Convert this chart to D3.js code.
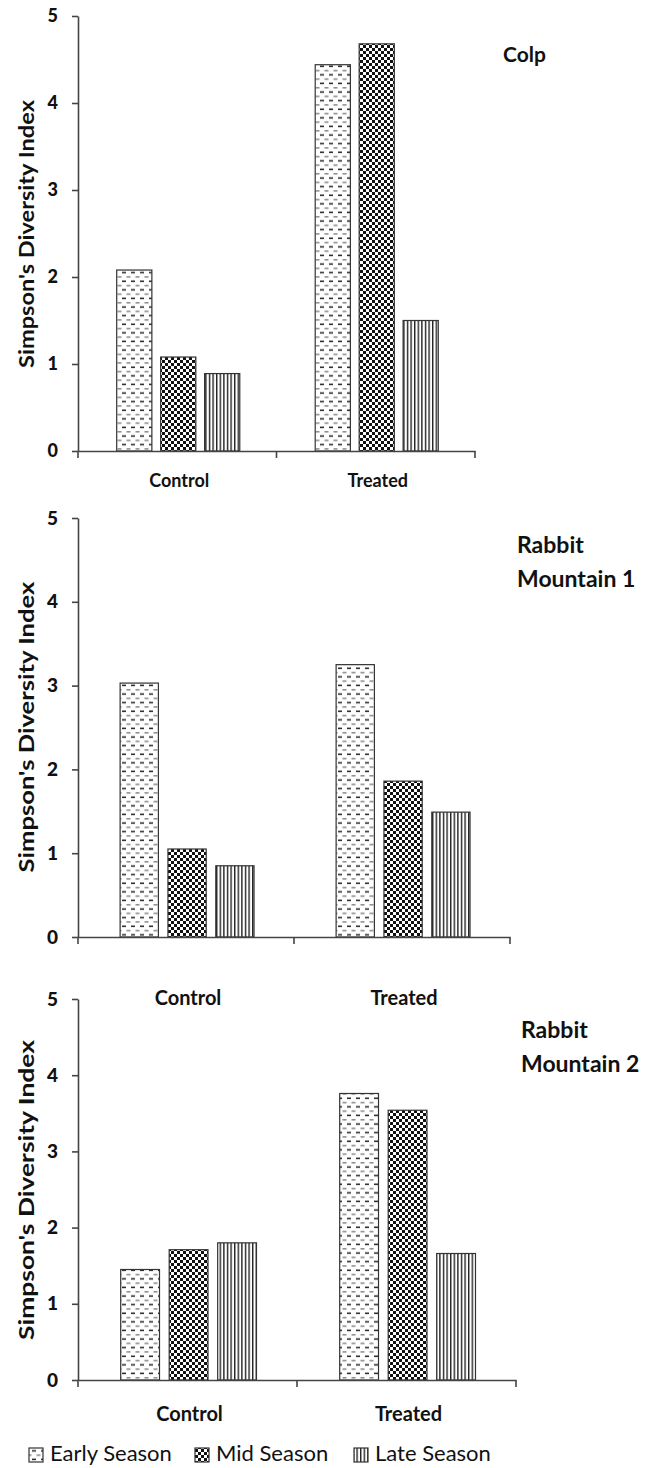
<!DOCTYPE html>
<html><head><meta charset="utf-8">
<script src="https://cdn.jsdelivr.net/npm/d3@7"></script>
<style>body{margin:0;background:#fff}svg{display:block}</style>
</head><body>
<script>
const categories = ["Control", "Treated"];
const seasons = ["Early Season", "Mid Season", "Late Season"];
const siteNames = [["Colp"], ["Rabbit", "Mountain 1"], ["Rabbit", "Mountain 2"]];
const colpValues = [[2.08, 1.08, 0.89], [4.44, 4.68, 1.50]];
const rm1Values = [[3.03, 1.05, 0.85], [3.25, 1.86, 1.49]];
const rm2Values = [[1.45, 1.71, 1.80], [3.76, 3.54, 1.66]];
const yTicks = [0, 1, 2, 3, 4, 5];
const yLabel = "Simpson's Diversity Index";

const W = 669, H = 1468;
const svg = d3.select("body").append("svg").attr("width", W).attr("height", H);
const defs = svg.append("defs");

// patterns
const pE = defs.append("pattern").attr("id", "pEarly").attr("patternUnits", "userSpaceOnUse")
  .attr("width", 9).attr("height", 8.6);
pE.append("rect").attr("width", 9).attr("height", 8.6).attr("fill", "#fff");
pE.append("rect").attr("x", 0.5).attr("y", 1).attr("width", 4).attr("height", 1.5).attr("fill", "#888");
pE.append("rect").attr("x", 5).attr("y", 5.3).attr("width", 4).attr("height", 1.5).attr("fill", "#222");

const pM = defs.append("pattern").attr("id", "pMid").attr("patternUnits", "userSpaceOnUse")
  .attr("width", 6).attr("height", 6);
pM.append("rect").attr("width", 6).attr("height", 6).attr("fill", "#fff");
pM.append("rect").attr("x", 0).attr("y", 0).attr("width", 3).attr("height", 3).attr("fill", "#111");
pM.append("rect").attr("x", 3).attr("y", 3).attr("width", 3).attr("height", 3).attr("fill", "#111");

const pL = defs.append("pattern").attr("id", "pLate").attr("patternUnits", "userSpaceOnUse")
  .attr("width", 3.6).attr("height", 10);
pL.append("rect").attr("width", 3.6).attr("height", 10).attr("fill", "#fff");
pL.append("rect").attr("x", 0).attr("y", 0).attr("width", 1.4).attr("height", 10).attr("fill", "#222");

const fills = d3.scaleOrdinal().domain(seasons).range(["url(#pEarly)", "url(#pMid)", "url(#pLate)"]);

const panels = [
  {values: colpValues, name: siteNames[0], axisX: 78, top: 16, bottom: 451, right: 475,
   catY: 487, catSize: 18, tickSize: 18, titleX: 503, titleY: 62, titleSize: 21, labelLen: 268, labelC: 234},
  {values: rm1Values, name: siteNames[1], axisX: 78, top: 518, bottom: 937, right: 510,
   catY: 1005, catSize: 20, tickSize: 19, titleX: 517, titleY: 553, titleSize: 23, labelLen: 291, labelC: 727},
  {values: rm2Values, name: siteNames[2], axisX: 78, top: 999, bottom: 1380, right: 516,
   catY: 1421, catSize: 20, tickSize: 19, titleX: 521, titleY: 1038, titleSize: 23, labelLen: 300, labelC: 1190}
];

const FONT = "Lato, 'Open Sans', sans-serif";

panels.forEach(p => {
  const g = svg.append("g");
  const y = d3.scaleLinear().domain([0, 5]).range([p.bottom, p.top]);
  const x0 = d3.scaleBand().domain(categories).range([p.axisX, p.right]);
  const bw = x0.bandwidth();
  const x1 = d3.scaleBand().domain(seasons).range([bw * 0.195, bw * 0.815]).paddingInner(0.2);

  // bars
  categories.forEach((c, ci) => {
    g.append("g").selectAll("rect").data(seasons).join("rect")
      .attr("x", s => x0(c) + x1(s))
      .attr("y", (s, si) => y(p.values[ci][si]))
      .attr("width", x1.bandwidth())
      .attr("height", (s, si) => y(0) - y(p.values[ci][si]))
      .attr("fill", s => fills(s))
      .attr("stroke", "#333").attr("stroke-width", 1.2);
  });

  // y axis
  const ya = g.append("g").attr("transform", `translate(${p.axisX},0)`)
    .call(d3.axisLeft(y).tickValues(yTicks).tickFormat(d3.format("d")).tickSize(6).tickSizeOuter(0));
  ya.select(".domain").attr("stroke", "#444").attr("stroke-width", 1.6);
  ya.selectAll(".tick line").attr("stroke", "#444").attr("stroke-width", 1.6);
  ya.selectAll(".tick text").attr("font-family", FONT).attr("font-weight", "900")
    .attr("font-size", p.tickSize).attr("fill", "#111").attr("x", -20);

  // x axis
  const xa = g.append("g").attr("transform", `translate(0,${p.bottom})`)
    .call(d3.axisBottom(x0).tickSize(0).tickSizeOuter(0).tickFormat(""));
  xa.select(".domain").attr("stroke", "#444").attr("stroke-width", 1.6);
  xa.selectAll(".tick").remove();
  const bounds = [p.axisX].concat(categories.map(c => x0(c) + bw));
  xa.selectAll("line.sep").data(bounds).join("line").attr("class", "sep")
    .attr("x1", d => d).attr("x2", d => d).attr("y1", 0).attr("y2", 7)
    .attr("stroke", "#444").attr("stroke-width", 1.6);

  // category labels
  g.selectAll("text.cat").data(categories).join("text").attr("class", "cat")
    .attr("x", c => x0(c) + bw / 2 + 2).attr("y", p.catY)
    .attr("text-anchor", "middle").attr("font-family", FONT).attr("font-weight", "bold")
    .attr("font-size", p.catSize).attr("fill", "#111").text(c => c);

  // y label
  g.append("text").attr("transform", `translate(34,${p.labelC}) rotate(-90)`)
    .attr("text-anchor", "middle").attr("font-family", FONT).attr("font-weight", "bold")
    .attr("font-size", 21).attr("fill", "#111")
    .attr("textLength", p.labelLen).attr("lengthAdjust", "spacingAndGlyphs").text(yLabel);

  // site title
  g.selectAll("text.title").data(p.name).join("text").attr("class", "title")
    .attr("x", p.titleX).attr("y", (d, i) => p.titleY + i * 34)
    .attr("font-family", FONT).attr("font-weight", "bold")
    .attr("font-size", p.titleSize).attr("fill", "#111").text(d => d);
});

// legend
const legX = [29, 195, 354];
const lg = svg.append("g");
seasons.forEach((s, i) => {
  lg.append("rect").attr("x", legX[i]).attr("y", 1448).attr("width", 14).attr("height", 14)
    .attr("fill", fills(s)).attr("stroke", "#333").attr("stroke-width", 1.2);
  lg.append("text").attr("x", legX[i] + 21).attr("y", 1461)
    .attr("font-family", FONT).attr("font-size", 22).attr("fill", "#111").text(s);
});
</script>
</body></html>
